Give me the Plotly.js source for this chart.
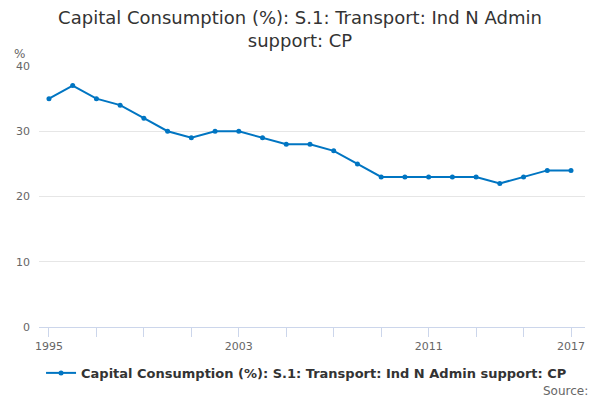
<!DOCTYPE html>
<html>
<head>
<meta charset="utf-8">
<script src="https://cdn.plot.ly/plotly-3.0.1.min.js"></script>
<style>
  html, body { margin: 0; padding: 0; background: #fff; }
  #chart { width: 600px; height: 400px; }
</style>
</head>
<body>
<div id="chart"></div>
<script>
const years = [1995, 1996, 1997, 1998, 1999, 2000, 2001, 2002, 2003, 2004, 2005, 2006,
  2007, 2008, 2009, 2010, 2011, 2012, 2013, 2014, 2015, 2016, 2017];
const values = [35, 37, 35, 34, 32, 30, 29, 30, 30, 29, 28, 28,
  27, 25, 23, 23, 23, 23, 23, 22, 23, 24, 24];
const tickYears = [1995, 1997, 1999, 2001, 2003, 2005, 2007, 2009, 2011, 2013, 2015, 2017];
const labelYears = [1995, 2003, 2011, 2017];
const seriesName = 'Capital Consumption (%): S.1: Transport: Ind N Admin support: CP';

const FONT = 'DejaVu Sans, sans-serif';

Plotly.newPlot('chart', [{
  x: years, y: values,
  type: 'scatter', mode: 'lines+markers',
  line: { color: '#0075c2', width: 2 },
  marker: { color: '#0075c2', size: 5 },
  name: seriesName,
}], {
  width: 600, height: 400,
  margin: { l: 39, r: 15, t: 66, b: 73 },
  paper_bgcolor: '#fff', plot_bgcolor: '#fff',
  font: { family: FONT, color: '#666' },
  title: {
    text: 'Capital Consumption (%): S.1: Transport: Ind N Admin<br>support: CP',
    font: { family: FONT, size: 18, color: '#333' },
    x: 0.5, xanchor: 'center', y: 0.94, yanchor: 'top',
  },
  showlegend: true,
  legend: {
    orientation: 'h', x: 0.49, xanchor: 'center', y: -0.176, yanchor: 'middle',
    font: { family: FONT, size: 13, color: '#333', weight: 'bold' },
  },
  xaxis: {
    range: [1994.58, 2017.59],
    tickvals: tickYears,
    ticktext: tickYears.map(y => labelYears.includes(y) ? String(y) : ''),
    ticks: 'outside', ticklen: 9, tickcolor: '#ccd6eb', tickwidth: 1,
    showline: true, linecolor: '#ccd6eb', linewidth: 1,
    showgrid: false, zeroline: false,
    tickfont: { family: FONT, size: 11, color: '#666' },
  },
  yaxis: {
    range: [0, 40],
    tickvals: [0, 10, 20, 30, 40],
    gridcolor: '#e6e6e6', gridwidth: 1,
    zeroline: false, showline: false,
    ticks: '', ticklabelstandoff: 8,
    tickfont: { family: FONT, size: 11, color: '#666' },
  },
  annotations: [{
    text: '%', xref: 'paper', yref: 'paper', x: -0.05, y: 1.01,
    xanchor: 'left', yanchor: 'bottom', showarrow: false,
    font: { family: FONT, size: 12, color: '#666' },
  }, {
    text: 'Source:', xref: 'paper', yref: 'paper', x: 1.01, y: -0.245,
    xanchor: 'right', yanchor: 'middle', showarrow: false,
    font: { family: FONT, size: 12, color: '#666' },
  }],
}, { displayModeBar: false });
</script>
</body>
</html>
